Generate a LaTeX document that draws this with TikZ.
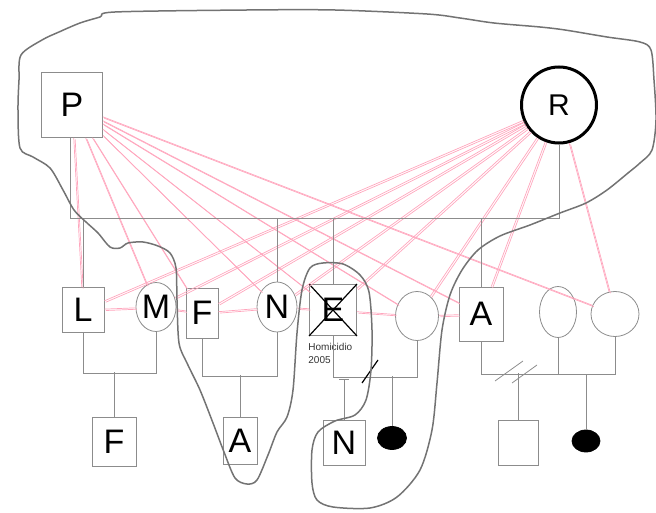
\documentclass[tikz,border=0pt]{standalone}
\usepackage{fontspec}
\setmainfont{Liberation Sans}
\usetikzlibrary{shapes.geometric}
\definecolor{tiepink}{HTML}{FFA6BD}

\begin{document}
\begin{tikzpicture}[x=1pt, y=-1pt, thick,
  box node/.style={rectangle, draw=black!45, line width=0.8pt, inner sep=0pt, font=\fontsize{34}{34}\selectfont},
  oval node/.style={ellipse, draw=black!45, line width=0.8pt, inner sep=0pt, font=\fontsize{34}{34}\selectfont},
  kin/.style={draw=black!45, line width=0.8pt},
  tie/.style={draw=tiepink, line width=0.7pt, postaction={draw=tiepink, transform canvas={shift={(1.4pt,-1.4pt)}}}}]

            \useasboundingbox (0,0) rectangle (656,513);

            % first generation
            \node[box node, minimum width=61pt, minimum height=65pt] (1) at (72,105) {P};
            \node[oval node, draw=black, line width=3pt, minimum width=75pt, minimum height=76pt, font=\fontsize{30}{30}\selectfont] (2) at (559,105) {R};

            % second generation
            \node[box node, minimum width=42pt, minimum height=45pt] (3) at (83,310) {L};
            \node[oval node, minimum width=39pt, minimum height=49pt] (4) at (156,307) {M};
            \node[box node, minimum width=32pt, minimum height=50pt] (5) at (202,313) {F};
            \node[oval node, minimum width=40pt, minimum height=50pt] (6) at (277,307) {N};
            \node[box node, minimum width=47pt, minimum height=51pt] (7) at (333,310) {E};
            \node[oval node, minimum width=43pt, minimum height=49pt] (8) at (417,316) {};
            \node[box node, minimum width=44pt, minimum height=54pt] (9) at (481,314) {A};
            \node[oval node, minimum width=37pt, minimum height=51pt] (10) at (558,312) {};
            \node[oval node, minimum width=48pt, minimum height=45pt] (11) at (615,314) {};

            % third generation
            \node[box node, minimum width=44pt, minimum height=49pt] (12) at (114,442) {F};
            \node[box node, minimum width=34pt, minimum height=47pt] (13) at (240,441) {A};
            \node[box node, minimum width=42pt, minimum height=45pt] (14) at (344,443) {N};
            \node[oval node, draw=black, fill=black, minimum width=29pt, minimum height=23pt] (15) at (392,438) {};
            \node[box node, minimum width=40pt, minimum height=45pt] (16) at (518,443) {};
            \node[oval node, draw=black, fill=black, minimum width=28pt, minimum height=22pt] (17) at (586,441) {};

            \draw[black, line width=1.2pt] (7.north west) -- (7.south east) (7.north east) -- (7.south west);
            \node[anchor=north west, inner sep=0pt, align=left, font=\fontsize{10}{13}\selectfont, text=black!80] (18) at (308,343) {Homicidio\\2005};

            % pink ties
            \path[every edge/.style={tie}]
                (1) edge (3)  (1) edge (4)  (1) edge (5)  (1) edge (6)
                (1) edge (7)  (1) edge (8)  (1) edge (9)  (1) edge (11)
                (2) edge (3)  (2) edge (4)  (2) edge (5)  (2) edge (6)
                (2) edge (7)  (2) edge (8)  (2) edge (9)  (2) edge (11)
                (3) edge (4)  (4) edge (5)  (5) edge (6)
                (6) edge (7)  (7) edge (8)  (8) edge (9)
                ;

            % family lines
            \coordinate (s1) at (70,218);
            \coordinate (s2) at (559,218);
            \draw[kin] (1.south -| s1) -- (s1) -- (s2) -- (2.south);
            \draw[kin] (3.north) -- (3.north |- s1);
            \draw[kin] (6.north) -- (6.north |- s1);
            \draw[kin] (7.north) -- (7.north |- s1);
            \draw[kin] (9.north) -- (9.north |- s1);

            \draw[kin] (3.south) -- ++(0,40) -| (4.south);
            \draw[kin] (12.north) -- ++(0,-45);
            \draw[kin] (5.south) -- ++(0,38) -| (6.south);
            \draw[kin] (13.north) -- ++(0,-42);
            \draw[kin] (7.south) -- ++(0,41) -| (8.south);
            \draw[kin] (14.north) -- ++(0,-41) ++(-5,0) -- ++(10,0);
            \draw[kin] (15.north) -- ++(0,-50);
            \draw[kin] (9.south) -- ++(0,33) -| (11.south);
            \draw[kin] (10.south) -- ++(0,37);
            \draw[kin] (16.north) -- ++(0,-47);
            \draw[kin] (17.north) -- ++(0,-56);

            \draw[black, line width=1.2pt] (362,383) -- (378,360);
            \draw[kin] (495,381) -- (523,361) (512,383) -- (537,365);

            % outline
            \draw[draw=black!55, line width=1.5pt] plot[smooth cycle, tension=0.5] coordinates {
                (21,55) (42,40) (59,32) (80,23) (100,17) (115,12) (247,10) (335,10)
                (427,14) (460,18) (494,23) (540,27) (565,30) (607,37) (640,42) (651,50)
                (654,80) (656,120) (652,150) (640,163) (628,173) (607,190) (586,203)
                (560,213) (530,225) (500,236) (478,250) (462,270) (450,295) (442,330)
                (437,383) (432,430) (420,470) (397,497) (370,508) (333,507) (317,500)
                (312,483) (312,450) (318,432) (335,421) (355,415) (366,400) (371,370)
                (372,330) (369,292) (360,275) (343,264) (323,263) (310,268) (302,290)
                (297,333) (293,390) (287,417) (277,432) (268,455) (257,480) (247,484)
                (235,478) (224,452) (213,423) (200,390) (187,363) (179,343) (177,300)
                (176,268) (170,253) (158,246) (143,242) (128,243) (120,248) (110,247)
                (98,233) (86,222) (74,210) (63,190) (50,168) (33,157) (20,148)
                (18,110) (19,80)};
\end{tikzpicture}
\end{document}
